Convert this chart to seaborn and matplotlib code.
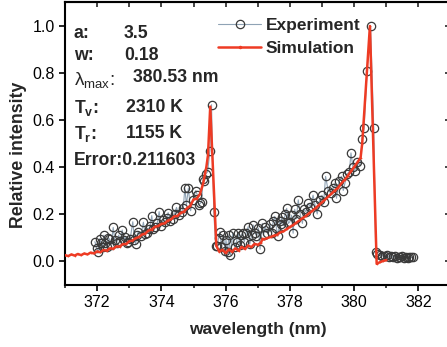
import matplotlib
matplotlib.use("Agg")
import matplotlib.pyplot as plt
import seaborn as sns
import numpy as np
import pandas as pd
from matplotlib.ticker import MultipleLocator
from matplotlib.lines import Line2D

# ---------------- data ----------------
exp_wavelength = [
    371.93, 371.99, 372.04, 372.08, 372.12, 372.17, 372.21, 372.26, 372.30, 372.34,
    372.38, 372.44, 372.50, 372.55, 372.61, 372.67, 372.72, 372.78, 372.83, 372.87,
    372.92, 372.97, 373.03, 373.11, 373.16, 373.20, 373.24, 373.28, 373.36, 373.44,
    373.49, 373.54, 373.60, 373.65, 373.70, 373.75, 373.80, 373.87, 373.93, 373.99,
    374.06, 374.12, 374.17, 374.21, 374.28, 374.35, 374.41, 374.47, 374.55, 374.63,
    374.68, 374.73, 374.78, 374.84, 374.91, 374.98, 375.07, 375.12, 375.17, 375.21,
    375.25, 375.30, 375.34, 375.38, 375.44, 375.51, 375.56, 375.63, 375.69,
    375.74, 375.78, 375.82, 375.87, 375.93, 375.98, 376.01, 376.06, 376.10, 376.15,
    376.22, 376.28, 376.34, 376.39, 376.44, 376.48, 376.53, 376.58, 376.64, 376.70,
    376.75, 376.81, 376.86, 376.91, 376.96, 377.02, 377.07, 377.14, 377.18, 377.22,
    377.30, 377.38, 377.43, 377.48, 377.53, 377.58, 377.63, 377.68, 377.72, 377.74,
    377.80, 377.85, 377.90, 377.95, 378.00, 378.05, 378.10, 378.15, 378.20, 378.26,
    378.32, 378.39, 378.43, 378.50, 378.57, 378.64, 378.72, 378.78, 378.85, 378.93,
    379.00, 379.05, 379.11, 379.19, 379.27, 379.35, 379.40, 379.45, 379.53, 379.61,
    379.66, 379.71, 379.78, 379.85, 379.90, 379.96, 380.02, 380.10, 380.18, 380.25,
    380.31, 380.40, 380.51, 380.61, 380.67, 380.72, 380.80, 380.87, 380.95, 381.02,
    381.09, 381.15, 381.21, 381.27, 381.32, 381.38, 381.44, 381.50, 381.55, 381.61,
    381.66, 381.72, 381.78, 381.84,
]
exp_intensity = [
    0.082, 0.055, 0.040, 0.095, 0.078, 0.060, 0.110, 0.075, 0.058, 0.100,
    0.094, 0.070, 0.143, 0.090, 0.078, 0.110, 0.085, 0.132, 0.090, 0.103,
    0.075, 0.082, 0.095, 0.167, 0.090, 0.072, 0.110, 0.125, 0.105, 0.165,
    0.115, 0.120, 0.135, 0.150, 0.193, 0.135, 0.143, 0.160, 0.210, 0.150,
    0.174, 0.165, 0.185, 0.206, 0.170, 0.180, 0.200, 0.228, 0.195, 0.210,
    0.225, 0.310, 0.240, 0.310, 0.214, 0.260, 0.300, 0.280, 0.238, 0.245,
    0.252, 0.350, 0.340, 0.370, 0.380, 0.470, 0.665, 0.210, 0.064,
    0.065, 0.100, 0.125, 0.060, 0.110, 0.044, 0.089, 0.040, 0.110, 0.026,
    0.118, 0.060, 0.082, 0.120, 0.070, 0.110, 0.118, 0.082, 0.120, 0.146,
    0.072, 0.110, 0.153, 0.120, 0.106, 0.140, 0.050, 0.160, 0.110, 0.146,
    0.120, 0.157, 0.118, 0.170, 0.190, 0.140, 0.106, 0.170, 0.157, 0.189,
    0.150, 0.200, 0.224, 0.160, 0.167, 0.195, 0.118, 0.220, 0.180, 0.260,
    0.200, 0.160, 0.220, 0.210, 0.245, 0.230, 0.280, 0.240, 0.200, 0.260,
    0.280, 0.250, 0.360, 0.300, 0.290, 0.310, 0.330, 0.267, 0.340, 0.360,
    0.300, 0.330, 0.370, 0.380, 0.460, 0.400, 0.385, 0.420, 0.405, 0.520,
    0.565, 0.810, 1.000, 0.565, 0.040, 0.030, 0.025, 0.022, 0.020, 0.025,
    0.018, 0.022, 0.015, 0.020, 0.012, 0.018, 0.015, 0.020, 0.012, 0.016,
    0.014, 0.018, 0.015, 0.016,
]

sim_wavelength = [
    371.0, 371.1, 371.2, 371.3, 371.4, 371.5, 371.6, 371.7, 371.8, 371.9,
    372.0, 372.1, 372.2, 372.3, 372.4, 372.5, 372.6, 372.7, 372.8, 372.9,
    373.0, 373.1, 373.2, 373.3, 373.4, 373.5, 373.6, 373.7, 373.8, 373.9,
    374.0, 374.1, 374.2, 374.3, 374.4, 374.5, 374.6, 374.7, 374.8, 374.9,
    375.0, 375.1, 375.2, 375.3, 375.4, 375.45, 375.52, 375.71,
    375.8, 375.9, 376.0, 376.1, 376.2, 376.3, 376.4, 376.5, 376.6, 376.7,
    376.8, 376.9, 377.0, 377.1, 377.15, 377.2, 377.3, 377.4, 377.5, 377.6,
    377.7, 377.8, 377.9, 378.0, 378.1, 378.2, 378.3, 378.4, 378.5, 378.6,
    378.7, 378.8, 378.9, 379.0, 379.1, 379.2, 379.3, 379.4, 379.5, 379.6,
    379.7, 379.8, 379.9, 380.0, 380.1, 380.2, 380.25, 380.49, 380.70,
    380.8, 380.9, 381.0,
]
sim_intensity = [
    0.025, 0.021, 0.028, 0.023, 0.030, 0.025, 0.032, 0.028, 0.036, 0.032,
    0.041, 0.037, 0.047, 0.044, 0.054, 0.052, 0.062, 0.061, 0.072, 0.072,
    0.084, 0.087, 0.097, 0.102, 0.113, 0.117, 0.130, 0.134, 0.146, 0.149,
    0.158, 0.160, 0.172, 0.177, 0.190, 0.192, 0.205, 0.210, 0.225, 0.235,
    0.262, 0.265, 0.285, 0.330, 0.400, 0.450, 0.657, 0.065,
    0.040, 0.048, 0.034, 0.049, 0.039, 0.054, 0.044, 0.060, 0.051, 0.066,
    0.059, 0.073, 0.069, 0.078, 0.095, 0.092, 0.098, 0.102, 0.108, 0.112,
    0.122, 0.126, 0.136, 0.145, 0.153, 0.163, 0.173, 0.183, 0.192, 0.203,
    0.214, 0.225, 0.238, 0.250, 0.262, 0.275, 0.288, 0.300, 0.312, 0.330,
    0.345, 0.362, 0.382, 0.400, 0.420, 0.440, 0.500, 1.000, -0.012,
    -0.005, 0.000, 0.004,
]

series_names = ["Experiment", "Simulation"]
x_ticks = [372, 374, 376, 378, 380, 382]
y_ticks = [0.0, 0.2, 0.4, 0.6, 0.8, 1.0]

exp_df = pd.DataFrame({"wavelength": exp_wavelength, "intensity": exp_intensity})
sim_df = pd.DataFrame({"wavelength": sim_wavelength, "intensity": sim_intensity})

# ---------------- style ----------------
sns.set_style("ticks")
plt.rcParams["font.family"] = ["Liberation Sans", "DejaVu Sans"]
plt.rcParams["mathtext.fontset"] = "custom"
plt.rcParams["mathtext.rm"] = "Liberation Sans"
plt.rcParams["mathtext.it"] = "Liberation Sans"
plt.rcParams["mathtext.bf"] = "Liberation Sans:bold"

fig = plt.figure(figsize=(4.47, 3.47), dpi=100)
ax = fig.add_axes([65 / 447, 1 - 284.5 / 347, (12 * 32.13) / 447, (284.5 - 2.5) / 347])

exp_line_color = "#8fa3b5"
exp_marker_color = "#3a3a3a"
sim_color = "#ee3b24"

sns.lineplot(data=exp_df, x="wavelength", y="intensity", sort=False, estimator=None,
             ax=ax, color=exp_line_color, linewidth=0.8, marker="o", markersize=6,
             markerfacecolor="none", markeredgecolor=exp_marker_color,
             markeredgewidth=0.9, zorder=2)
sns.lineplot(data=sim_df, x="wavelength", y="intensity", sort=False, estimator=None,
             ax=ax, color=sim_color, linewidth=1.8, marker=".", markersize=2.5,
             markeredgewidth=0, zorder=3)

ax.set_xlim(371, 383)
ax.set_ylim(-0.1, 1.1)
ax.set_xticks(x_ticks)
ax.set_yticks(y_ticks)
ax.set_yticklabels([f"{v:.1f}" for v in y_ticks])
ax.xaxis.set_minor_locator(MultipleLocator(1))

for sp in ax.spines.values():
    sp.set_linewidth(1.5)
    sp.set_color("black")
    sp.set_visible(True)

ax.tick_params(axis="both", which="major", direction="out", length=4.5, width=1.2,
               labelsize=11.5, colors="black", pad=3)
ax.tick_params(axis="x", which="minor", direction="out", length=2.5, width=1.2)
ax.tick_params(axis="y", which="minor", left=False)

# top / right inward ticks
secx = ax.secondary_xaxis("top")
secx.set_xticks([371, 372, 373, 374, 375, 376, 377, 378, 379, 380, 381, 382])
secx.tick_params(direction="in", length=3.5, width=1.2, labeltop=False)
secx.spines["top"].set_linewidth(1.5)
secy = ax.secondary_yaxis("right")
secy.set_yticks(y_ticks)
secy.yaxis.set_minor_locator(MultipleLocator(0.1))
secy.tick_params(which="major", direction="in", length=4, width=1.2, labelright=False)
secy.tick_params(which="minor", direction="in", length=2, width=1.0)

ax.set_xlabel("wavelength (nm)", fontsize=12.5, fontweight="bold", labelpad=8.5)
ax.set_ylabel("Relative intensity", fontsize=12.8, fontweight="bold")
ax.yaxis.set_label_coords((27 - 65) / 385.6, (284.5 - 155) / 282)

# legend
handles = [
    Line2D([], [], color=exp_line_color, linewidth=0.8, marker="o", markersize=6,
           markerfacecolor="none", markeredgecolor=exp_marker_color, markeredgewidth=0.9),
    Line2D([], [], color=sim_color, linewidth=1.8, marker=".", markersize=3),
]
leg = ax.legend(handles, series_names, loc="upper left", bbox_to_anchor=(218 / 447, 1 - 18 / 347),
                bbox_transform=fig.transFigure, frameon=False, handlelength=2.5,
                handletextpad=0.25, labelspacing=0.42, borderpad=0, borderaxespad=0,
                numpoints=1, prop={"weight": "bold", "size": 12.5})

# parameter annotations
fs = 12.7
rows = [
    (34, "a:", "3.5", 124),
    (56, "w:", "0.18", 124),
    (108, r"T$_\mathregular{v}$:", "2310 K", 126),
    (134, r"T$_\mathregular{r}$:", "1155 K", 126),
]
for y, lab, val, xv in rows:
    fig.text(74 / 447, 1 - y / 347, lab, fontsize=fs, fontweight="bold", va="center", ha="left")
    fig.text(xv / 447, 1 - y / 347, val, fontsize=fs, fontweight="bold", va="center", ha="left")
fig.text(74 / 447, 1 - 80 / 347, r"$\lambda_{\mathregular{max}}$:", fontsize=fs + 1,
         va="center", ha="left")
fig.text(133 / 447, 1 - 78 / 347, "380.53 nm", fontsize=fs, fontweight="bold",
         va="center", ha="left")
fig.text(74 / 447, 1 - 161 / 347, "Error:0.211603", fontsize=fs, fontweight="bold",
         va="center", ha="left")

fig.savefig("out.png", dpi=100)
